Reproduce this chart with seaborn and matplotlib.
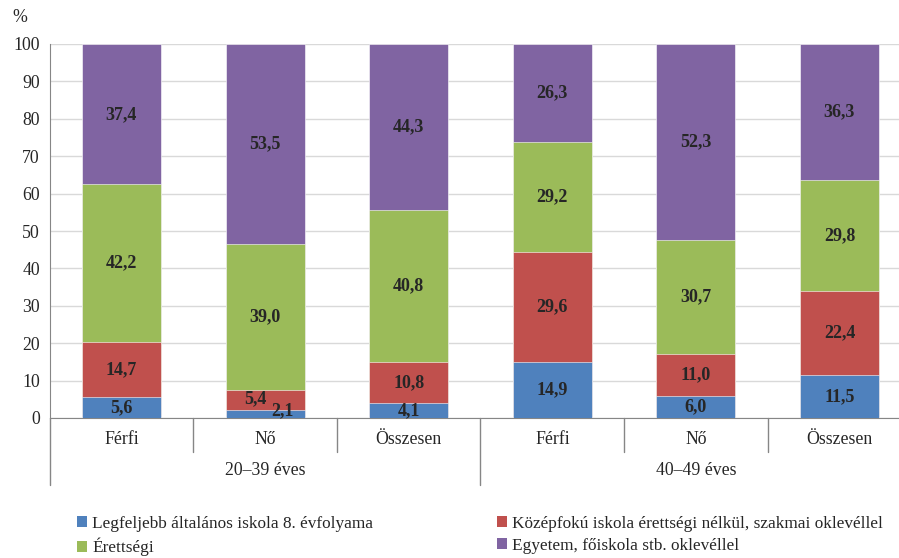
import numpy as np
import pandas as pd
import seaborn as sns
import matplotlib.pyplot as plt
from matplotlib.patches import Patch

# Data
categories = ["Férfi", "Nő", "Összesen", "Férfi", "Nő", "Összesen"]
groups = ["20–39 éves", "40–49 éves"]
series_names = [
    "Legfeljebb általános iskola 8. évfolyama",
    "Középfokú iskola érettségi nélkül, szakmai oklevéllel",
    "Érettségi",
    "Egyetem, főiskola stb. oklevéllel",
]
elementary = [5.6, 2.1, 4.1, 14.9, 6.0, 11.5]
vocational = [14.7, 5.4, 10.8, 29.6, 11.0, 22.4]
matura = [42.2, 39.0, 40.8, 29.2, 30.7, 29.8]
university = [37.4, 53.5, 44.3, 26.3, 52.3, 36.3]
colors = ["#4F81BD", "#C0504D", "#9BBB59", "#8064A2"]

sns.set_style("white")
plt.rcParams["font.family"] = ["Liberation Serif", "DejaVu Serif"]

values = np.array([elementary, vocational, matura, university])
cum = np.cumsum(values, axis=0)
bar_ids = [str(i) for i in range(len(categories))]
fs = 12.8

fig = plt.figure(figsize=(8.99, 5.58), dpi=100)
ax = fig.add_axes([49.7 / 899, 140 / 558, 861.6 / 899, 374 / 558])

# draw cumulative bars from top layer down
for k in range(3, -1, -1):
    df = pd.DataFrame({"bar": bar_ids, "val": cum[k]})
    sns.barplot(data=df, x="bar", y="val", color=colors[k], width=0.55,
                saturation=1, edgecolor="white", linewidth=0.4, ax=ax, zorder=3)

# value labels
for k in range(4):
    for i in range(len(categories)):
        v = values[k, i]
        yc = cum[k, i] - v / 2
        dx, dy = 0, 0
        if i == 1 and k == 0:
            dx, dy = 0.12, 1.0
        if i == 1 and k == 1:
            dx, dy = -0.07, 0.3
        ax.text(i + dx, yc + dy, f"{v:.1f}".replace(".", ","), ha="center",
                va="center", fontsize=13, fontweight="bold", zorder=5)

ax.set_xlim(-0.5, 5.5)
ax.set_ylim(0, 100)
ax.set_yticks(range(0, 101, 10))
ax.yaxis.grid(True, color="#D9D9D9", linewidth=1, zorder=0)
ax.set_axisbelow(True)
ax.set_xlabel("")
ax.set_ylabel("")
ax.tick_params(axis="y", length=0, pad=7, labelsize=fs)
ax.set_xticks(range(len(categories)))
ax.set_xticklabels(categories, fontsize=fs)
ax.tick_params(axis="x", length=0, pad=9)
for s in ["top", "right"]:
    ax.spines[s].set_visible(False)
ax.spines["left"].set_color("#868686")
ax.spines["bottom"].set_color("#868686")

# two-level axis separators
trans = ax.get_xaxis_transform()
for xs in [0.5, 1.5, 3.5, 4.5]:
    ax.plot([xs, xs], [0, -0.091], color="#868686", lw=1, transform=trans, clip_on=False)
for xs in [-0.5, 2.5]:
    ax.plot([xs, xs], [0, -0.179], color="#868686", lw=1, transform=trans, clip_on=False)
for g, name in enumerate(groups):
    ax.text(g * 3 + 1, -0.14, name, ha="center", va="center", fontsize=fs,
            transform=trans)

fig.text(12 / 899, 1 - 18 / 558, "%", fontsize=fs, ha="left", va="center")

# legend
lfs = 12.4
handles = [Patch(facecolor=c, edgecolor="none") for c in colors]
fig.legend([handles[0], handles[2]], [series_names[0], series_names[2]],
           loc="upper left", bbox_to_anchor=(68 / 899, 1 - 507 / 558), frameon=False,
           fontsize=lfs, handlelength=0.6, handleheight=0.6, handletextpad=0.3,
           labelspacing=0.35, borderpad=0)
fig.legend([handles[1], handles[3]], [series_names[1], series_names[3]],
           loc="upper left", bbox_to_anchor=(488 / 899, 1 - 507 / 558), frameon=False,
           fontsize=lfs, handlelength=0.6, handleheight=0.6, handletextpad=0.3,
           labelspacing=0.35, borderpad=0)

fig.savefig("out.png", dpi=100)
